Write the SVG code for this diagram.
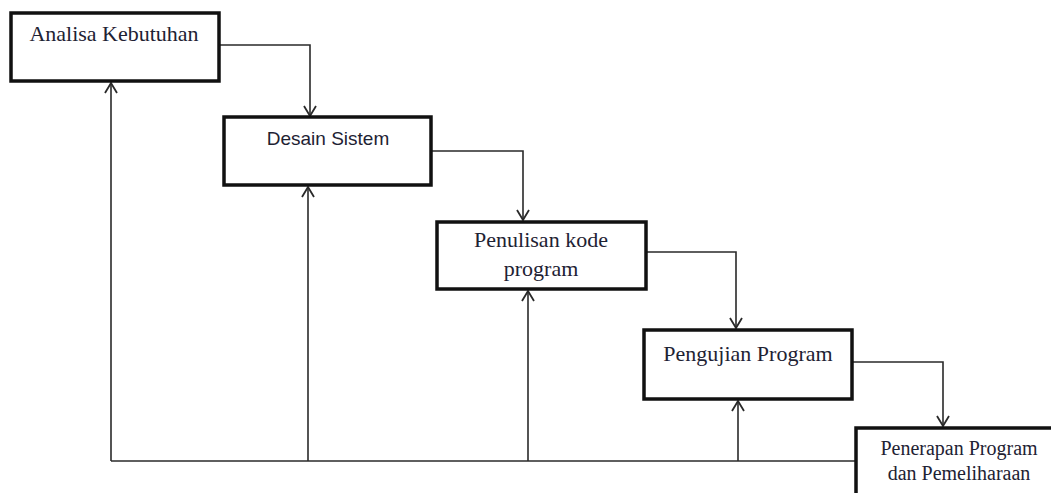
<svg xmlns="http://www.w3.org/2000/svg" width="1051" height="493" viewBox="0 0 1051 493">
<defs>
<style>
.box{fill:#fff;stroke:#111;stroke-width:3.5}
.serif{font-family:"Liberation Serif","Times New Roman",serif;fill:#1e2233;text-anchor:middle}
.sans{font-family:"Liberation Sans",Arial,sans-serif;fill:#1e2233;text-anchor:middle}
.conn{fill:none;stroke:#2a2a2a;stroke-width:1.6}
</style>
<marker id="arr" viewBox="0 0 12 14" refX="11" refY="7" markerWidth="12" markerHeight="14" markerUnits="userSpaceOnUse" orient="auto">
<path d="M1,1 L11,7 L1,13" fill="none" stroke="#2a2a2a" stroke-width="1.8"/>
</marker>
</defs>
<rect width="1051" height="493" fill="#fff"/>
<g id="connectors">
<polyline class="conn" points="219,45 310,45 310,116" marker-end="url(#arr)"/>
<polyline class="conn" points="431,151 523,151 523,220" marker-end="url(#arr)"/>
<polyline class="conn" points="646,252 736,252 736,328" marker-end="url(#arr)"/>
<polyline class="conn" points="852,362 943,362 943,426" marker-end="url(#arr)"/>
<line class="conn" x1="111" y1="461" x2="856" y2="461"/>
<line class="conn" x1="111" y1="461" x2="111" y2="83" marker-end="url(#arr)"/>
<line class="conn" x1="308" y1="461" x2="308" y2="187" marker-end="url(#arr)"/>
<line class="conn" x1="528" y1="461" x2="528" y2="291" marker-end="url(#arr)"/>
<line class="conn" x1="738" y1="461" x2="738" y2="401" marker-end="url(#arr)"/>
</g>
<g id="analisa">
<rect class="box" x="11" y="13" width="208" height="68"/>
<text class="serif" x="114" y="41" font-size="22">Analisa Kebutuhan</text>
</g>
<g id="desain">
<rect class="box" x="224" y="117" width="207" height="68"/>
<text class="sans" x="328" y="145" font-size="19">Desain Sistem</text>
</g>
<g id="penulisan">
<rect class="box" x="437" y="222" width="209" height="67"/>
<text class="serif" x="541" y="247" font-size="22">Penulisan kode</text>
<text class="serif" x="541" y="276" font-size="22">program</text>
</g>
<g id="pengujian">
<rect class="box" x="644" y="330" width="208" height="69"/>
<text class="serif" x="748" y="361" font-size="22">Pengujian Program</text>
</g>
<g id="penerapan">
<rect class="box" x="856" y="428" width="210" height="80"/>
<text class="serif" x="959" y="455" font-size="20">Penerapan Program</text>
<text class="serif" x="959" y="480" font-size="20">dan Pemeliharaan</text>
</g>
</svg>
